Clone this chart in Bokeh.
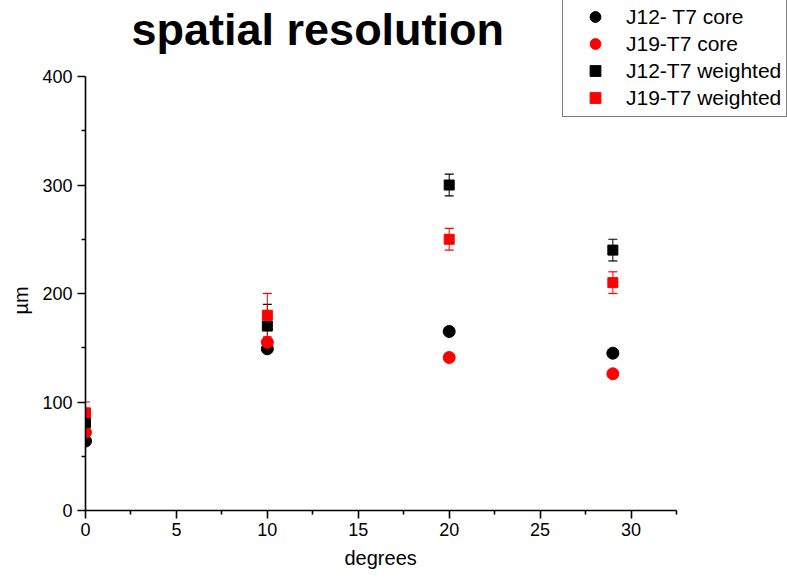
from bokeh.plotting import figure
from bokeh.models import (ColumnDataSource, Whisker, TeeHead, Legend, LegendItem,
                          FixedTicker, Range1d, Label, Title)
from bokeh.embed import file_html
from bokeh.resources import INLINE

# Spatial resolution (µm) versus incidence angle (degrees)
angles = [0, 10, 20, 29]
j12_core = [64, 149, 165, 145]
j19_core = [72, 155, 141, 126]
j12_weighted = [81, 170, 300, 240]
j12_weighted_err = [10, 20, 10, 10]
j19_weighted = [90, 180, 250, 210]
j19_weighted_err = [10, 20, 10, 10]

x_ticks = [0, 5, 10, 15, 20, 25, 30]
x_minor = [2.5, 7.5, 12.5, 17.5, 22.5, 27.5, 32.5]
y_ticks = [0, 100, 200, 300, 400]
y_minor = [50, 150, 250, 350]

FONT = "Liberation Sans"

# Axis extents; the plotting frame runs past them (to the right and top
# edges of the canvas) so the legend and the heading can sit there.
X_AXIS = (0, 32.5)
Y_AXIS = (0, 400)
W, H = 787, 580
LEFT, BOTTOM = 85, 70
AXIS_RIGHT_PX, AXIS_TOP_PX = 676, 76
x_end = X_AXIS[1] * (W - LEFT) / (AXIS_RIGHT_PX - LEFT)
y_end = Y_AXIS[1] * (H - BOTTOM) / (H - BOTTOM - AXIS_TOP_PX)

p = figure(width=W, height=H, output_backend="svg", toolbar_location=None,
           x_range=Range1d(0, x_end), y_range=Range1d(0, y_end),
           min_border_left=LEFT, min_border_right=0, min_border_top=0,
           min_border_bottom=BOTTOM)
p.outline_line_color = None
p.xgrid.visible = False
p.ygrid.visible = False
p.background_fill_color = "white"
p.border_fill_color = "white"

for ax in (p.xaxis[0], p.yaxis[0]):
    ax.axis_line_width = 1.6
    ax.axis_line_color = "black"
    ax.major_tick_line_color = "black"
    ax.minor_tick_line_color = "black"
    ax.major_tick_line_width = 1.6
    ax.minor_tick_line_width = 1.6
    ax.major_tick_out = 8
    ax.major_tick_in = 0
    ax.minor_tick_out = 4
    ax.minor_tick_in = 0
    ax.major_label_text_font = FONT
    ax.major_label_text_font_size = "18px"
    ax.major_label_text_color = "black"

p.xaxis[0].bounds = X_AXIS
p.yaxis[0].bounds = Y_AXIS
p.xaxis[0].ticker = FixedTicker(ticks=x_ticks, minor_ticks=x_minor)
p.yaxis[0].ticker = FixedTicker(ticks=y_ticks, minor_ticks=y_minor)
p.xaxis[0].major_label_standoff = 4
p.yaxis[0].major_label_standoff = 5

# Axis titles, centred under / beside the drawn axis span rather than the frame
x_title = Title(text="degrees", text_font=FONT, text_font_size="20px",
                text_font_style="normal", text_color="black",
                align="left", offset=259, standoff=12)
y_title = Title(text="µm", text_font=FONT, text_font_size="20px",
                text_font_style="normal", text_color="black",
                align="left", offset=196, standoff=15)
p.add_layout(x_title, "below")
p.add_layout(y_title, "left")

src = ColumnDataSource(dict(
    x=angles,
    j12c=j12_core, j19c=j19_core,
    j12w=j12_weighted, j19w=j19_weighted,
    j12w_lo=[v - e for v, e in zip(j12_weighted, j12_weighted_err)],
    j12w_hi=[v + e for v, e in zip(j12_weighted, j12_weighted_err)],
    j19w_lo=[v - e for v, e in zip(j19_weighted, j19_weighted_err)],
    j19w_hi=[v + e for v, e in zip(j19_weighted, j19_weighted_err)],
))

r_j12c = p.scatter("x", "j12c", source=src, marker="circle", size=12,
                   fill_color="black", line_color="black")
r_j19c = p.scatter("x", "j19c", source=src, marker="circle", size=12,
                   fill_color="red", line_color="red")

for lo, hi, col in (("j12w_lo", "j12w_hi", "black"), ("j19w_lo", "j19w_hi", "red")):
    w = Whisker(source=src, base="x", lower=lo, upper=hi, dimension="height",
                line_color=col, line_width=1,
                upper_head=TeeHead(size=9, line_color=col, line_width=1.2),
                lower_head=TeeHead(size=9, line_color=col, line_width=1.2))
    p.add_layout(w)

r_j12w = p.scatter("x", "j12w", source=src, marker="square", size=10,
                   fill_color="black", line_color="black")
r_j19w = p.scatter("x", "j19w", source=src, marker="square", size=10,
                   fill_color="red", line_color="red")

# Heading, placed in screen pixels from the frame's lower-left corner
title = Label(x=46, y=481, x_units="screen", y_units="screen",
              text="spatial resolution", text_font=FONT, text_font_size="45px",
              text_font_style="bold", text_color="black",
              text_align="left", text_baseline="alphabetic")
p.add_layout(title)

legend = Legend(items=[
    LegendItem(label="J12- T7 core", renderers=[r_j12c]),
    LegendItem(label="J19-T7 core", renderers=[r_j19c]),
    LegendItem(label="J12-T7 weighted", renderers=[r_j12w]),
    LegendItem(label="J19-T7 weighted", renderers=[r_j19w]),
], location=(477, 393))
legend.margin = 0
legend.padding = 5
legend.spacing = 0
legend.glyph_width = 54
legend.glyph_height = 27
legend.label_height = 27
legend.label_standoff = 4
legend.label_text_font = FONT
legend.label_text_font_size = "21px"
legend.label_text_color = "black"
legend.border_line_color = "black"
legend.border_line_width = 1.2
legend.background_fill_color = "white"
legend.background_fill_alpha = 1.0
p.add_layout(legend, "center")

open("out.html", "w").write(file_html(p, INLINE))
